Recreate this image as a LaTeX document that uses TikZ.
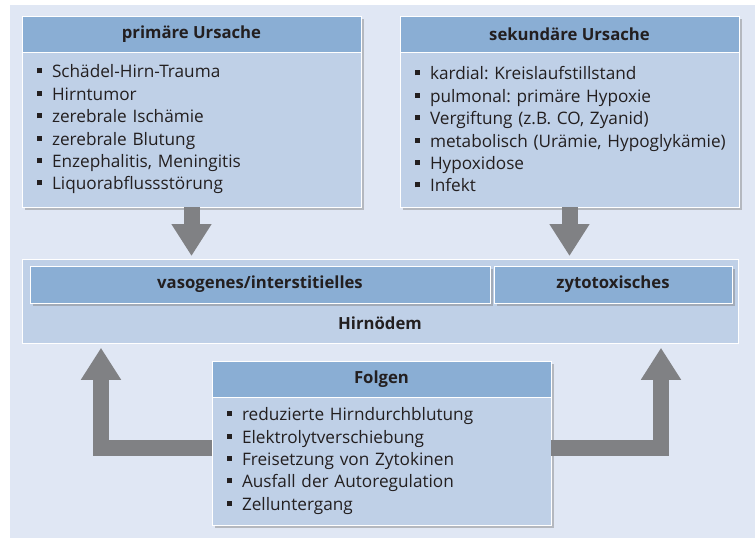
\documentclass[tikz,border=0pt]{standalone}
\usepackage{fontspec}
\setmainfont{Open Sans}
\usetikzlibrary{positioning,shadows,arrows.meta}
\definecolor{backblue}{HTML}{E0E7F4}
\definecolor{headblue}{HTML}{8AAED4}
\definecolor{bodyblue}{HTML}{BFD0E7}
\definecolor{arrowgray}{HTML}{808184}
\definecolor{textdark}{HTML}{231F20}
\frenchspacing
\newcommand{\itm}[1]{\mbox{\rule[4.5pt]{5pt}{5pt}\hspace{10pt}#1}}
\tikzset{
  boxshadow/.style={drop shadow={shadow xshift=3pt,shadow yshift=-3pt,fill=black!50,opacity=.45}},
  headbox/.style={draw=white, line width=.8pt, fill=headblue, text=textdark,
    font=\fontsize{16.7}{18}\selectfont\bfseries, minimum width=339pt, minimum height=36pt,
    inner sep=0pt, outer sep=0pt, boxshadow},
  listbox/.style={draw=white, line width=.8pt, fill=bodyblue, text=textdark,
    font=\fontsize{17.2}{22.4}\selectfont, align=left, text width=309pt, inner xsep=15pt,
    inner ysep=0pt, outer sep=0pt, boxshadow},
  typebox/.style={draw=white, line width=.8pt, fill=headblue, text=textdark,
    font=\fontsize{16.7}{18}\selectfont\bfseries, minimum height=37pt, inner sep=0pt,
    outer sep=0pt, anchor=north west, boxshadow},
  bigarrow/.style={draw=arrowgray, line width=16pt, line join=miter,
    -{Triangle[width=38pt,length=32pt]}}
}
\begin{document}
\begin{tikzpicture}[x=1pt,y=-1pt]
\useasboundingbox (0,0) rectangle (755,538);
\fill[white] (0,0) rectangle (755,538);
\fill[backblue] (10,5) rectangle (755,538);
% Ursachen
\node[headbox, anchor=north west] (prim) at (22,16) {primäre Ursache};
\node[listbox, minimum height=155pt, anchor=north west] (primbody) at (prim.south west) {%
  \itm{Schädel-Hirn-Trauma}\\
  \itm{Hirntumor}\\
  \itm{zerebrale Ischämie}\\
  \itm{zerebrale Blutung}\\
  \itm{Enzephalitis, Meningitis}\\
  \itm{Liquorabflussstörung}};
\node[headbox, anchor=north west] (sek) at (400,16) {sekundäre Ursache};
\node[listbox, minimum height=155pt, anchor=north west] (sekbody) at (sek.south west) {%
  \itm{kardial: Kreislaufstillstand}\\
  \itm{pulmonal: primäre Hypoxie}\\
  \itm{Vergiftung (z.B. CO, Zyanid)}\\
  \itm{metabolisch (Urämie, Hypoglykämie)}\\
  \itm{Hypoxidose}\\
  \itm{Infekt}};
% Hirnoedem
\node[draw=white, line width=.8pt, fill=bodyblue, minimum width=716pt, minimum height=84pt,
  inner sep=0pt, anchor=north west] (oedem) at (22,259) {};
\node[text=textdark, font=\fontsize{16.7}{18}\selectfont\bfseries, anchor=base] (oedemlabel)
  at (380,329) {Hirnödem};
\node[typebox, minimum width=460pt] (vaso) at (30,266) {vasogenes/interstitielles};
\node[typebox, minimum width=238pt] (zyto) at (494,266) {zytotoxisches};
% Folgen
\node[headbox, anchor=north west] (folg) at (212,361) {Folgen};
\node[listbox, minimum height=128pt, anchor=north west] (folgbody) at (folg.south west) {%
  \itm{reduzierte Hirndurchblutung}\\
  \itm{Elektrolytverschiebung}\\
  \itm{Freisetzung von Zytokinen}\\
  \itm{Ausfall der Autoregulation}\\
  \itm{Zelluntergang}};
% Pfeile
\coordinate (lx) at (101,448);
\coordinate (rx) at (661,448);
\draw[bigarrow, shorten >=3pt] (primbody.south) -- (primbody.south |- oedem.north);
\draw[bigarrow, shorten >=3pt] (sekbody.south) -- (sekbody.south |- oedem.north);
\draw[bigarrow, shorten >=4pt] (folgbody.west |- lx) -| (lx |- oedem.south);
\draw[bigarrow, shorten >=4pt] (folgbody.east |- rx) -| (rx |- oedem.south);
\end{tikzpicture}
\end{document}
